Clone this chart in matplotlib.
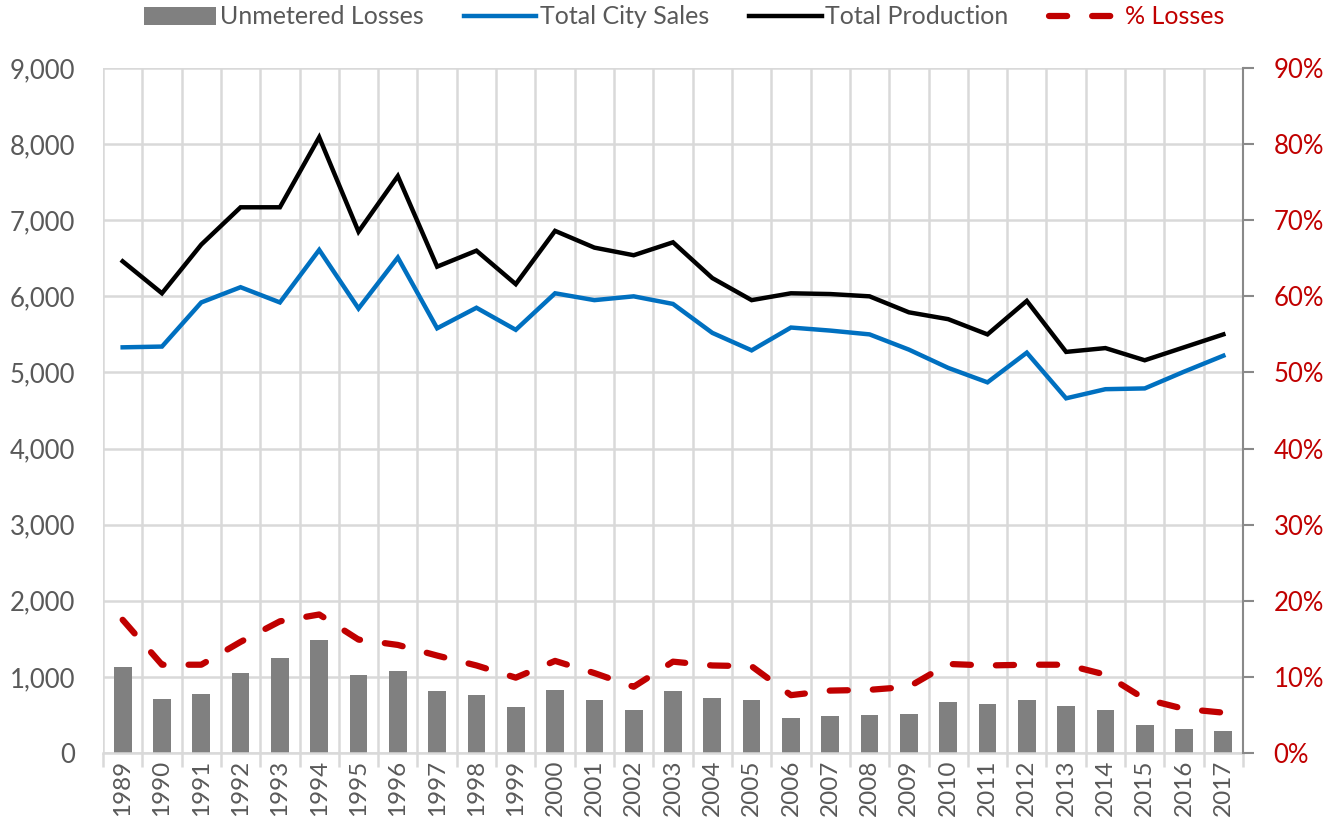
import numpy as np
import matplotlib
matplotlib.use("Agg")
import matplotlib.pyplot as plt
from matplotlib.patches import Patch
from matplotlib.lines import Line2D
from matplotlib.ticker import FuncFormatter

plt.rcParams['font.family'] = ['Lato', 'DejaVu Sans']

years = [str(y) for y in range(1989, 2018)]
total_production = [6460, 6040, 6680, 7170, 7170, 8090, 6850, 7580, 6390, 6600,
                    6160, 6860, 6640, 6540, 6710, 6240, 5950, 6040, 6030, 6000,
                    5790, 5700, 5500, 5940, 5270, 5320, 5160, 5330, 5500]
total_city_sales = [5330, 5340, 5920, 6120, 5920, 6610, 5840, 6510, 5580, 5850,
                    5560, 6040, 5950, 6000, 5900, 5520, 5290, 5590, 5550, 5500,
                    5300, 5060, 4870, 5260, 4660, 4780, 4790, 5010, 5220]
unmetered_losses = [1130, 710, 780, 1050, 1250, 1485, 1020, 1080, 820, 760,
                    610, 830, 700, 570, 810, 720, 690, 460, 490, 500,
                    510, 675, 640, 700, 620, 560, 370, 315, 295]
pct_losses = [0.175, 0.116, 0.116, 0.146, 0.173, 0.182, 0.149, 0.142, 0.128, 0.115,
              0.099, 0.121, 0.105, 0.087, 0.120, 0.115, 0.114, 0.076, 0.082, 0.083,
              0.087, 0.117, 0.115, 0.116, 0.116, 0.103, 0.071, 0.058, 0.053]

GRID = '#D9D9D9'
TXT = '#595959'
RED = '#C00000'
DASH = (0, (2.9, 4.0))

fig = plt.figure(figsize=(13.36, 8.35), dpi=100)
ax = fig.add_axes([103/1336, 1-753/835, 1140/1336, 685/835])
x = np.arange(len(years))

ax.set_axisbelow(True)
ax.bar(x, unmetered_losses, width=0.45, color='#808080', zorder=2)
ax.plot(x, total_city_sales, color='#0070C0', lw=3.2, zorder=3, solid_joinstyle='miter')
ax.plot(x, total_production, color='black', lw=3.2, zorder=3, solid_joinstyle='miter')

ax.set_xlim(-0.5, len(years) - 0.5)
ax.set_ylim(0, 9000)
ax.set_yticks(np.arange(0, 9001, 1000))
ax.yaxis.set_major_formatter(FuncFormatter(lambda v, p: f"{int(v):,}"))
ax.set_xticks(x)
ax.set_xticklabels(years, rotation=90)
ax.set_xticks(np.arange(-0.5, len(years), 1), minor=True)
ax.grid(True, axis='y', which='major', color=GRID, lw=1.8)
ax.grid(True, axis='x', which='minor', color=GRID, lw=1.8)
ax.tick_params(axis='x', which='major', length=0, labelsize=17.5, colors=TXT, pad=5)
ax.tick_params(axis='x', which='minor', length=10, width=1.8, color=GRID)
ax.tick_params(axis='y', length=0, labelsize=18.5, colors=TXT, pad=20)
for s in ['top', 'right', 'left']:
    ax.spines[s].set_visible(False)
ax.spines['bottom'].set_color(GRID)
ax.spines['bottom'].set_linewidth(1.8)

ax2 = ax.twinx()
ax2.plot(x, pct_losses, color=RED, lw=4.5, linestyle=DASH,
         dash_capstyle='round', zorder=4)
ax2.set_ylim(0, 0.9)
ax2.set_yticks(np.arange(0, 0.91, 0.1))
ax2.yaxis.set_major_formatter(FuncFormatter(lambda v, p: f"{int(round(v*100))}%"))
ax2.tick_params(axis='y', length=8, width=1.5, color='#898989', labelsize=18.5,
                labelcolor=RED, pad=14)
for s in ['top', 'left', 'bottom']:
    ax2.spines[s].set_visible(False)
ax2.spines['right'].set_color('#898989')
ax2.spines['right'].set_linewidth(1.5)

handles = [
    Patch(facecolor='#808080', edgecolor='none'),
    Line2D([], [], color='#0070C0', lw=3.2),
    Line2D([], [], color='black', lw=3.2),
    Line2D([], [], color=RED, lw=4.5, linestyle=DASH, dash_capstyle='round'),
]
labels = ['Unmetered Losses', 'Total City Sales', 'Total Production', '% Losses']
leg = fig.legend(handles, labels, loc='center', bbox_to_anchor=(684/1336, 1-17/835),
                 ncol=4, frameon=False, fontsize=18, handlelength=2.9,
                 handleheight=0.7, handletextpad=0.15, columnspacing=1.6,
                 borderpad=0, borderaxespad=0)
for t in leg.get_texts():
    t.set_color(TXT)
leg.get_texts()[3].set_color(RED)

fig.savefig('out.png', dpi=100)
